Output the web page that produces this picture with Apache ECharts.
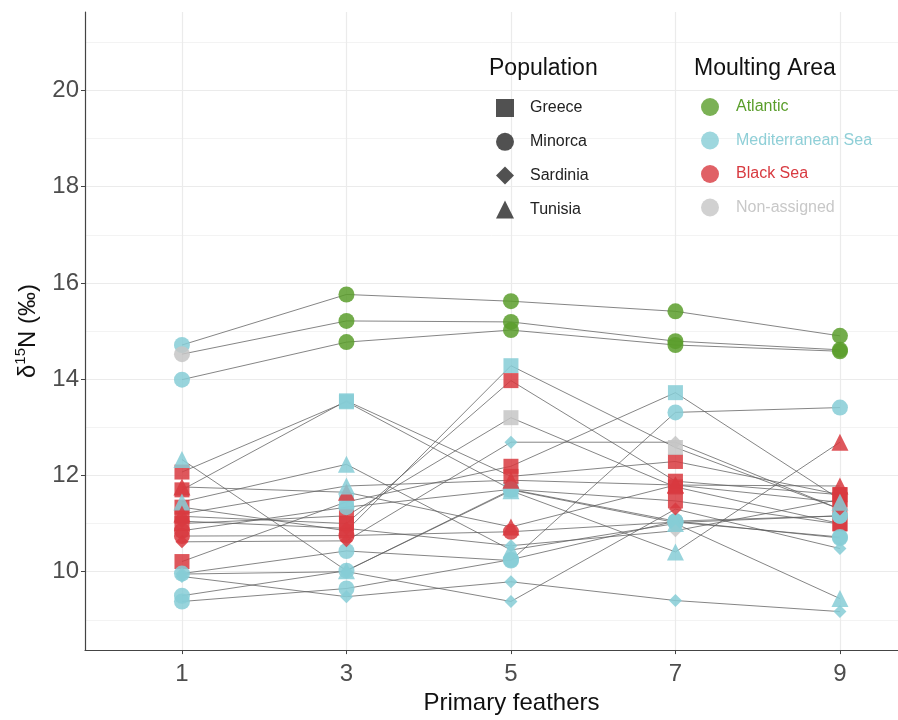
<!DOCTYPE html>
<html><head><meta charset="utf-8">
<script src="https://cdn.jsdelivr.net/npm/echarts@6/dist/echarts.min.js"></script>
<style>html,body{margin:0;padding:0;background:#fff}#c{width:898px;height:720px}</style>
</head><body><div id="c"></div>
<script>
// ---- data ----
const feathers = [1, 3, 5, 7, 9];
const xTicks = [1, 3, 5, 7, 9];
const yTicks = [10, 12, 14, 16, 18, 20];
const yMinor = [9, 11, 13, 15, 17, 19, 21];
const populations = ['Greece', 'Minorca', 'Sardinia', 'Tunisia'];
const areaNames = ['Atlantic', 'Mediterranean Sea', 'Black Sea', 'Non-assigned'];
const areaCodes = ['A', 'M', 'B', 'N'];

// one entry per bird: population, delta15N per feather (1,3,5,7,9), moulting area per feather
const birdPopulation = [
  'Minorca','Minorca','Minorca','Minorca','Minorca','Minorca','Minorca','Minorca',
  'Sardinia','Sardinia','Sardinia','Sardinia',
  'Tunisia','Tunisia','Tunisia','Tunisia',
  'Greece','Greece','Greece','Greece','Greece','Greece'
];
const birdValues = [
  [14.71, 15.76, 15.62, 15.41, 14.90],
  [14.52, 15.21, 15.19, 14.79, 14.61],
  [13.99, 14.77, 15.02, 14.71, 14.58],
  [9.96, 10.43, 10.23, 13.31, 13.41],
  [10.85, 11.34, 11.71, 11.05, 11.16],
  [10.74, 10.75, 10.83, 11.03, 10.72],
  [9.38, 9.65, 10.25, 11.05, 10.70],
  [9.50, 10.02, 11.70, 11.02, 11.16],
  [10.62, 10.64, 12.69, 12.69, 11.30],
  [9.90, 9.48, 9.79, 9.40, 9.17],
  [9.95, 10.00, 9.38, 11.30, 10.48],
  [11.05, 10.90, 10.54, 10.85, 11.50],
  [12.33, 10.02, 11.68, 10.41, 12.69],
  [11.76, 11.65, 10.93, 11.80, 11.78],
  [11.45, 12.23, 10.45, 11.00, 9.44],
  [11.20, 11.78, 11.90, 11.80, 11.44],
  [12.07, 13.53, 11.71, 11.47, 10.99],
  [11.70, 13.55, 11.98, 12.29, 11.60],
  [11.34, 10.85, 14.28, 12.58, 11.30],
  [11.15, 11.00, 13.97, 11.88, 11.60],
  [11.00, 11.16, 13.20, 11.76, 11.00],
  [10.21, 11.45, 12.19, 13.72, 11.50]
];
const birdAreas = [
  ['M','A','A','A','A'],
  ['N','A','A','A','A'],
  ['M','A','A','A','A'],
  ['M','M','M','M','M'],
  ['B','M','M','M','M'],
  ['B','B','B','M','M'],
  ['M','M','M','M','M'],
  ['M','M','M','M','M'],
  ['B','B','M','N','B'],
  ['M','M','M','M','M'],
  ['M','M','M','B','M'],
  ['B','B','M','N','B'],
  ['M','M','M','M','B'],
  ['B','B','B','B','B'],
  ['M','M','M','M','M'],
  ['B','M','B','B','M'],
  ['B','M','M','B','B'],
  ['B','M','B','B','B'],
  ['B','B','M','N','B'],
  ['B','B','B','B','B'],
  ['B','B','N','B','B'],
  ['B','M','B','M','B']
];

// ---- styles ----
const FONT = 'Liberation Sans, Arial, sans-serif';
const popSymbol = {Greece: 'rect', Minorca: 'circle', Sardinia: 'diamond', Tunisia: 'triangle'};
const popSize = {Greece: 15, Minorca: 16, Sardinia: 13, Tunisia: 17};
const areaColor = {A: '#5a9e2b', M: '#86cdd6', B: '#d83a40', N: '#c6c6c6'};
const areaText = {A: '#5a9e2b', M: '#8fcfd7', B: '#d83a40', N: '#c8c8c8'};

const series = [];
// grid lines
series.push({
  type: 'line', data: [], silent: true, z: 0,
  markLine: {
    silent: true, symbol: 'none', label: {show: false}, animation: false, z: 0,
    data: [
      ...yMinor.map(v => ({yAxis: v, lineStyle: {color: '#f3f3f3', width: 1, type: 'solid'}})),
      ...yTicks.map(v => ({yAxis: v, lineStyle: {color: '#ebebeb', width: 1.2, type: 'solid'}})),
      ...xTicks.map(v => ({xAxis: v, lineStyle: {color: '#ebebeb', width: 1.2, type: 'solid'}}))
    ]
  }
});
// lines per bird
birdValues.forEach((vals, i) => {
  series.push({
    type: 'line', silent: true, z: 2, symbol: 'none',
    lineStyle: {color: '#5c5c5c', width: 1, opacity: 0.75},
    data: feathers.map((f, j) => [f, vals[j]])
  });
});
// points per population
populations.forEach(p => {
  const data = [];
  birdValues.forEach((vals, i) => {
    if (birdPopulation[i] !== p) return;
    feathers.forEach((f, j) => {
      data.push({value: [f, vals[j]], itemStyle: {color: areaColor[birdAreas[i][j]]}});
    });
  });
  series.push({
    name: p, type: 'scatter', z: 3, symbol: popSymbol[p], symbolSize: popSize[p],
    itemStyle: {color: '#333333', opacity: 0.85}, data: data
  });
});
// dummy series for moulting area legend
areaNames.forEach((a, k) => {
  series.push({name: a, type: 'scatter', data: [], symbol: 'circle', itemStyle: {color: areaColor[areaCodes[k]]}});
});

const option = {
  animation: false,
  backgroundColor: '#ffffff',
  grid: {left: 85, right: 0, top: 12, bottom: 68, containLabel: false},
  title: [
    {text: 'Population', left: 489, top: 57, padding: 0, textStyle: {fontFamily: FONT, fontSize: 23, fontWeight: 'normal', color: '#111'}},
    {text: 'Moulting Area', left: 694, top: 57, padding: 0, textStyle: {fontFamily: FONT, fontSize: 23, fontWeight: 'normal', color: '#111'}}
  ],
  legend: [
    {
      data: populations.map(p => ({name: p, icon: popSymbol[p]})),
      orient: 'vertical', left: 496, top: 99, padding: 0, z: 10,
      itemWidth: 18, itemHeight: 18, itemGap: 15.8,
      formatter: '{n|{name}}',
      textStyle: {fontFamily: FONT, fontSize: 16, color: '#222', rich: {n: {fontFamily: FONT, fontSize: 16, color: '#222', padding: [0, 0, 0, 11]}}},
      selectedMode: false
    },
    {
      data: areaNames.map((a, k) => ({name: a, icon: 'circle', textStyle: {color: areaText[areaCodes[k]], rich: {n: {color: areaText[areaCodes[k]], fontFamily: FONT, fontSize: 16, padding: [0, 0, 0, 12]}}}})),
      orient: 'vertical', left: 701, top: 98, padding: 0, z: 10,
      itemWidth: 18, itemHeight: 18, itemGap: 15.5,
      formatter: '{n|{name}}',
      textStyle: {fontFamily: FONT, fontSize: 16},
      selectedMode: false
    }
  ],
  xAxis: {
    type: 'value', min: -0.179, max: 9.706,
    name: 'Primary feathers', nameLocation: 'middle', nameGap: 36,
    nameTextStyle: {fontFamily: FONT, fontSize: 24, color: '#111', padding: [0, 0, 0, 40]},
    axisLine: {show: true, onZero: false, lineStyle: {color: '#444', width: 1.2}},
    axisTick: {show: true, customValues: xTicks, length: 4, lineStyle: {color: '#444'}},
    axisLabel: {customValues: xTicks, fontFamily: FONT, fontSize: 24, color: '#4d4d4d', margin: 12},
    splitLine: {show: false}
  },
  yAxis: {
    type: 'value', min: 8.37, max: 21.63,
    name: '{d|δ}{s|15}{d|N (‰)}', nameLocation: 'middle', nameGap: 42, nameRotate: 90,
    nameTextStyle: {
      fontFamily: FONT, color: '#111',
      rich: {
        d: {fontFamily: FONT, fontSize: 24, color: '#111', lineHeight: 30},
        s: {fontFamily: FONT, fontSize: 15, color: '#111', verticalAlign: 'top', lineHeight: 30, padding: [0, 0, 10, 0]}
      }
    },
    axisLine: {show: true, onZero: false, lineStyle: {color: '#444', width: 1.2}},
    axisTick: {show: true, customValues: yTicks, length: 4, lineStyle: {color: '#444'}},
    axisLabel: {customValues: yTicks, fontFamily: FONT, fontSize: 24, color: '#4d4d4d', margin: 6},
    splitLine: {show: false}
  },
  series: series
};
const chart = echarts.init(document.getElementById('c'), null, {renderer: 'canvas'});
chart.setOption(option);
</script>
</body></html>
